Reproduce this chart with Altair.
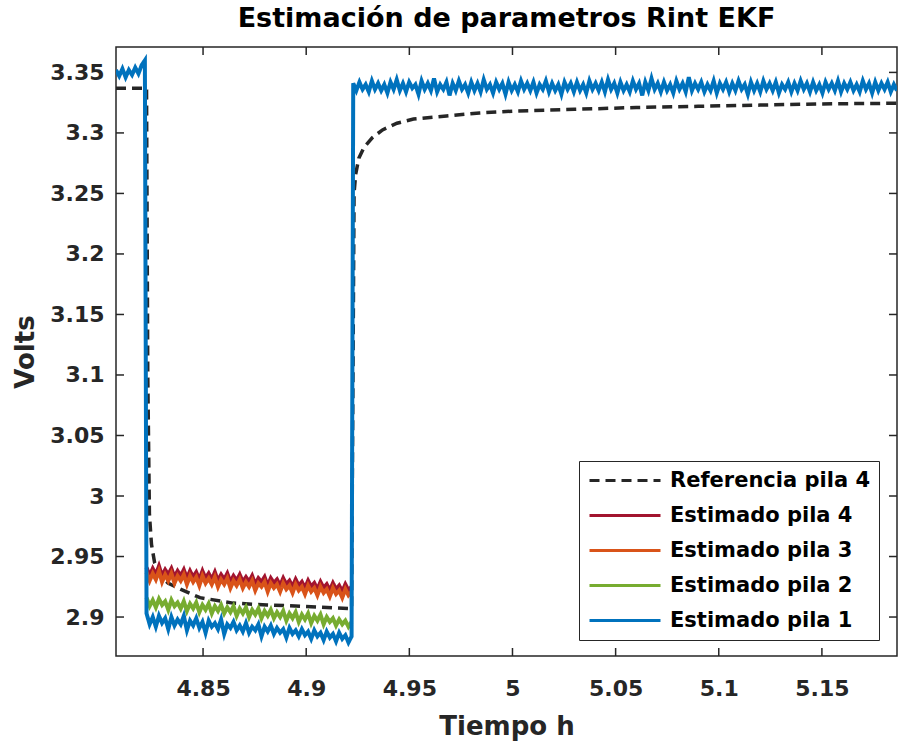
import altair as alt
import pandas as pd
import numpy as np

# ---------------- axes ----------------
x_ticks = [4.85, 4.9, 4.95, 5.0, 5.05, 5.1, 5.15]
y_ticks = [2.9, 2.95, 3.0, 3.05, 3.1, 3.15, 3.2, 3.25, 3.3, 3.35]
x_domain = [4.8078, 5.1864]
y_domain = [2.8678, 3.3710]

series_names = ["Referencia pila 4", "Estimado pila 4", "Estimado pila 3",
                "Estimado pila 2", "Estimado pila 1"]
series_colors = ["#262626", "#A2142F", "#D95319", "#77AC30", "#0072BD"]

# ---------------- reference (dashed) ----------------
ref_t = [4.8078, 4.8226, 4.8232, 4.8240, 4.8250, 4.8265, 4.8290, 4.8330, 4.8390,
         4.8485, 4.8645, 4.8810, 4.8970, 4.9220, 4.9232, 4.9240, 4.9255, 4.9280,
         4.9320, 4.9370, 4.9440, 4.9520, 4.9680, 4.9840, 5.0000, 5.0300, 5.0600,
         5.0900, 5.1200, 5.1500, 5.1864]
ref_v = [3.337, 3.337, 3.100, 2.985, 2.960, 2.945, 2.935, 2.928, 2.923,
         2.916, 2.9115, 2.910, 2.909, 2.907, 3.250, 3.266, 3.279, 3.288,
         3.296, 3.3025, 3.308, 3.3115, 3.314, 3.3165, 3.318, 3.3195, 3.321,
         3.322, 3.323, 3.324, 3.3245]

# ---------------- estimates during the low (discharge) segment ----------------
low_span = [4.8226, 4.9220]
pila4_low = [2.941, 2.934, 2.940, 2.935, 2.942, 2.934, 2.939, 2.935, 2.940, 2.933,
             2.938, 2.934, 2.939, 2.932, 2.938, 2.933, 2.937, 2.931, 2.938, 2.932,
             2.936, 2.931, 2.937, 2.930, 2.935, 2.931, 2.936, 2.929, 2.934, 2.930,
             2.935, 2.929, 2.933, 2.929, 2.934, 2.927, 2.932, 2.929, 2.933, 2.926,
             2.932, 2.928, 2.931, 2.926, 2.932, 2.927, 2.930, 2.925, 2.931, 2.926,
             2.929, 2.924, 2.930, 2.925, 2.928, 2.923, 2.929, 2.924, 2.927, 2.922,
             2.928, 2.923, 2.926, 2.921, 2.927, 2.922, 2.925]
pila3_low = [2.937, 2.930, 2.936, 2.931, 2.938, 2.929, 2.935, 2.930, 2.936, 2.928,
             2.934, 2.930, 2.935, 2.927, 2.934, 2.929, 2.933, 2.926, 2.934, 2.928,
             2.932, 2.927, 2.933, 2.925, 2.931, 2.927, 2.932, 2.924, 2.930, 2.926,
             2.931, 2.924, 2.929, 2.925, 2.930, 2.922, 2.928, 2.925, 2.929, 2.921,
             2.928, 2.924, 2.927, 2.921, 2.928, 2.923, 2.926, 2.920, 2.927, 2.922,
             2.925, 2.919, 2.926, 2.921, 2.924, 2.918, 2.925, 2.920, 2.923, 2.917,
             2.924, 2.919, 2.922, 2.916, 2.923, 2.918, 2.921]
pila2_low = [2.916, 2.909, 2.914, 2.908, 2.915, 2.910, 2.913, 2.906, 2.914, 2.909,
             2.912, 2.907, 2.913, 2.905, 2.911, 2.907, 2.912, 2.904, 2.910, 2.906,
             2.911, 2.903, 2.909, 2.905, 2.910, 2.903, 2.908, 2.904, 2.909, 2.901,
             2.907, 2.903, 2.908, 2.900, 2.906, 2.902, 2.907, 2.899, 2.905, 2.901,
             2.906, 2.899, 2.904, 2.900, 2.905, 2.897, 2.903, 2.899, 2.904, 2.896,
             2.902, 2.898, 2.903, 2.895, 2.901, 2.897, 2.902, 2.894, 2.900, 2.896,
             2.899, 2.893, 2.898, 2.894, 2.897, 2.892, 2.896]
pila1_low = [2.903, 2.894, 2.900, 2.892, 2.901, 2.895, 2.899, 2.890, 2.900, 2.893,
             2.898, 2.894, 2.901, 2.889, 2.897, 2.893, 2.899, 2.891, 2.896, 2.887,
             2.897, 2.892, 2.895, 2.890, 2.898, 2.886, 2.894, 2.891, 2.896, 2.889,
             2.893, 2.888, 2.895, 2.887, 2.892, 2.889, 2.894, 2.884, 2.892, 2.888,
             2.893, 2.886, 2.891, 2.887, 2.890, 2.883, 2.891, 2.886, 2.889, 2.884,
             2.890, 2.885, 2.888, 2.882, 2.889, 2.884, 2.887, 2.881, 2.888, 2.883,
             2.886, 2.880, 2.887, 2.882, 2.885, 2.879, 2.884]

# ---------------- pila 1 during rest segments ----------------
pila1_first_span = [4.8078, 4.8218]
pila1_first = [3.352, 3.347, 3.353, 3.346, 3.352, 3.348, 3.354, 3.349, 3.356, 3.360]
pila1_high_span = [4.9228, 5.1864]
pila1_high = [3.341, 3.335, 3.342, 3.336, 3.340, 3.334, 3.343, 3.336, 3.341, 3.335,
              3.340, 3.333, 3.342, 3.336, 3.344, 3.335, 3.341, 3.334, 3.342, 3.337,
              3.340, 3.332, 3.343, 3.336, 3.341, 3.335, 3.345, 3.334, 3.340, 3.336,
              3.342, 3.331, 3.341, 3.335, 3.343, 3.336, 3.340, 3.333, 3.342, 3.335,
              3.341, 3.334, 3.344, 3.336, 3.340, 3.333, 3.342, 3.336, 3.341, 3.332,
              3.342, 3.335, 3.340, 3.334, 3.343, 3.336, 3.341, 3.335, 3.342, 3.333,
              3.340, 3.336, 3.343, 3.334, 3.341, 3.335, 3.340, 3.332, 3.342, 3.336,
              3.341, 3.334, 3.342, 3.335, 3.340, 3.333, 3.343, 3.336, 3.341, 3.335,
              3.342, 3.334, 3.344, 3.336, 3.341, 3.333, 3.342, 3.335, 3.340, 3.334,
              3.343, 3.336, 3.341, 3.331, 3.342, 3.335, 3.345, 3.336, 3.341, 3.334,
              3.342, 3.335, 3.340, 3.333, 3.343, 3.336, 3.341, 3.334, 3.346, 3.335,
              3.341, 3.336, 3.342, 3.334, 3.340, 3.335, 3.343, 3.333, 3.341, 3.336,
              3.342, 3.334, 3.341, 3.335, 3.343, 3.336, 3.340, 3.332, 3.342, 3.335,
              3.341, 3.334, 3.343, 3.336, 3.341, 3.335, 3.342, 3.333, 3.340, 3.336,
              3.342, 3.334, 3.341, 3.335, 3.343, 3.336, 3.341, 3.334, 3.342, 3.335,
              3.340, 3.333, 3.342, 3.336, 3.341, 3.335, 3.343, 3.334, 3.341, 3.336,
              3.342, 3.335, 3.340, 3.334, 3.343, 3.336, 3.341, 3.333, 3.342, 3.335,
              3.341, 3.336, 3.342, 3.334, 3.340, 3.335]


def segment(span, values):
    return list(np.linspace(span[0], span[1], len(values))), list(values)


def frame(name, parts):
    ts, vs = [], []
    for t, v in parts:
        ts += list(t)
        vs += list(v)
    return pd.DataFrame({"t": ts, "v": vs, "serie": name})


df_ref = frame("Referencia pila 4", [(ref_t, ref_v)])
df_p4 = frame("Estimado pila 4", [segment(low_span, pila4_low)])
df_p3 = frame("Estimado pila 3", [segment(low_span, pila3_low)])
df_p2 = frame("Estimado pila 2", [segment(low_span, pila2_low)])
df_p1 = frame("Estimado pila 1", [segment(pila1_first_span, pila1_first),
                                  segment(low_span, pila1_low),
                                  segment(pila1_high_span, pila1_high)])

W, H = 781, 609
FONT = "DejaVu Sans"
AX = "#262626"

xscale = alt.Scale(domain=x_domain, nice=False, zero=False)
yscale = alt.Scale(domain=y_domain, nice=False, zero=False)

x_axis = alt.Axis(values=x_ticks, format="~g", title="Tiempo h", grid=False,
                  ticks=False, tickSize=0, domain=False, labelFlush=False,
                  labelFont=FONT, labelFontSize=22, labelFontWeight="bold",
                  labelColor=AX, labelBaseline="middle", labelPadding=32,
                  titleFont=FONT, titleFontSize=26, titleFontWeight="bold",
                  titleColor=AX, titleX=W / 2, titleY=70, titleBaseline="middle",
                  titleAlign="center")
y_axis = alt.Axis(values=y_ticks, format="~g", title="Volts", grid=False,
                  ticks=False, tickSize=0, domain=False, labelFlush=False,
                  labelFont=FONT, labelFontSize=22, labelFontWeight="bold",
                  labelColor=AX, labelPadding=12,
                  titleFont=FONT, titleFontSize=26, titleFontWeight="bold",
                  titleColor=AX, titleX=-91, titleY=H / 2, titleAngle=270,
                  titleBaseline="middle", titleAlign="center")

legend = alt.Legend(title=None, orient="none", legendX=463, legendY=414,
                    symbolType="stroke", symbolSize=5041, symbolStrokeWidth=3,
                    clipHeight=21,
                    labelFont=FONT, labelFontSize=21, labelFontWeight="bold",
                    labelColor="#000000", labelOffset=8, labelLimit=400,
                    padding=9, rowPadding=13, strokeColor=AX, fillColor="white")

color_scale = alt.Scale(domain=series_names, range=series_colors)
dash_scale = alt.Scale(domain=series_names,
                       range=[[10, 6], [1, 0], [1, 0], [1, 0], [1, 0]])


def series_layer(df, width):
    return alt.Chart(df).mark_line(strokeWidth=width, clip=True).encode(
        x=alt.X("t:Q", scale=xscale, axis=x_axis),
        y=alt.Y("v:Q", scale=yscale, axis=y_axis),
        color=alt.Color("serie:N", scale=color_scale, legend=legend),
        strokeDash=alt.StrokeDash("serie:N", scale=dash_scale, legend=legend),
    )


xt_df = pd.DataFrame({"t": x_ticks})
yt_df = pd.DataFrame({"v": y_ticks})
tick_style = dict(color=AX, strokeWidth=1.5)
top_ticks = alt.Chart(xt_df).mark_rule(**tick_style).encode(
    x=alt.X("t:Q", scale=xscale, axis=x_axis), y=alt.value(0), y2=alt.value(8))
bottom_ticks = alt.Chart(xt_df).mark_rule(**tick_style).encode(
    x=alt.X("t:Q", scale=xscale, axis=x_axis), y=alt.value(H), y2=alt.value(H - 8))
left_ticks = alt.Chart(yt_df).mark_rule(**tick_style).encode(
    y=alt.Y("v:Q", scale=yscale, axis=y_axis), x=alt.value(0), x2=alt.value(8))
right_ticks = alt.Chart(yt_df).mark_rule(**tick_style).encode(
    y=alt.Y("v:Q", scale=yscale, axis=y_axis), x=alt.value(W), x2=alt.value(W - 8))

chart = alt.layer(
    top_ticks, bottom_ticks, left_ticks, right_ticks,
    series_layer(df_ref, 3.5),
    series_layer(df_p4, 4),
    series_layer(df_p3, 4),
    series_layer(df_p2, 4),
    series_layer(df_p1, 4),
).properties(
    width=W, height=H,
    title=alt.TitleParams(text="Estimación de parametros Rint EKF", font=FONT,
                          fontSize=27, fontWeight="bold", color="#000000",
                          anchor="middle", offset=13),
    autosize=alt.AutoSizeParams(type="none"),
    padding={"left": 116, "top": 47, "right": 1, "bottom": 91},
    background="white",
).configure_view(stroke=AX, strokeWidth=1.5)

chart.save("out.html", embed_options={"renderer": "svg", "actions": False})
